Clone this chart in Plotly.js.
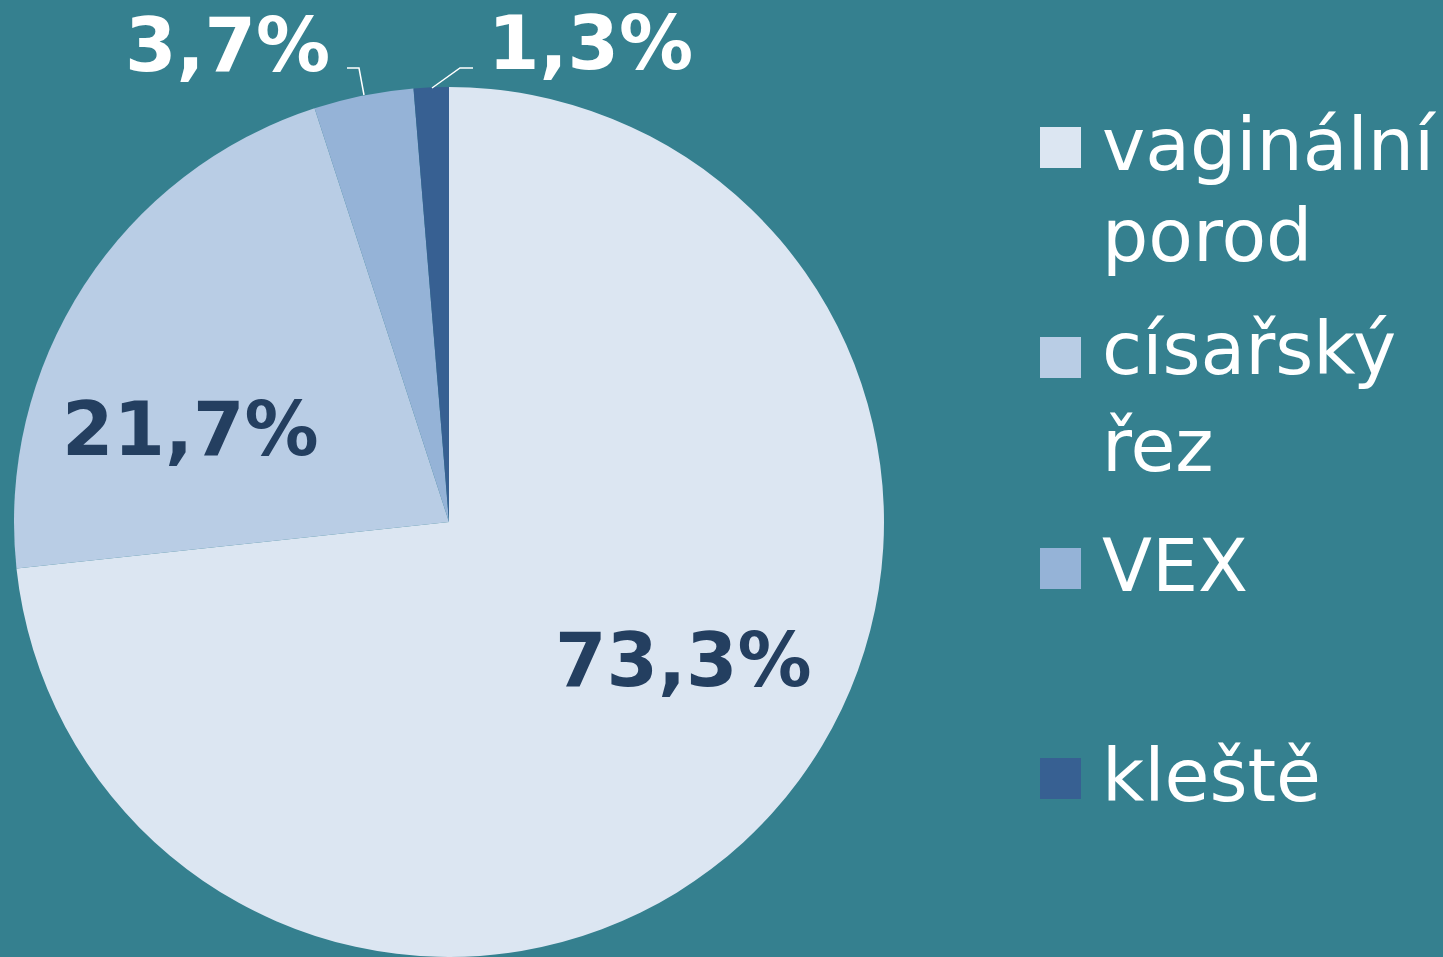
<!DOCTYPE html>
<html><head><meta charset="utf-8">
<script src="https://cdn.plot.ly/plotly-3.0.1.min.js"></script>
<style>html,body{margin:0;padding:0;background:#35808F;}#chart{width:1443px;height:957px;}</style>
</head><body><div id="chart"></div>
<script>
const labels = ['vaginální porod', 'císařský řez', 'VEX', 'kleště'];
const values = [73.3, 21.7, 3.7, 1.3];
const colors = ['#DCE6F2', '#B9CDE5', '#95B3D7', '#376092'];
const legendLines = [['vaginální', 'porod'], ['císařský', 'řez'], ['VEX'], ['kleště']];

const W = 1443, H = 957;
const px = x => x / W;
const py = y => (H - y) / H;
const fmt = v => v.toFixed(1).replace('.', ',') + '%';

const trace = {
  type: 'pie',
  labels: labels,
  values: values,
  sort: false,
  direction: 'clockwise',
  rotation: 0,
  marker: {colors: colors, line: {width: 0}},
  textinfo: 'none',
  domain: {x: [px(14), px(884)], y: [py(957), py(87)]},
  hoverinfo: 'label+percent',
  showlegend: false
};

const shapes = [], annotations = [];

// data labels (positions chosen to match the reference layout)
const labelPos = [
  {cx: 683, capTop: 633, color: '#243F60'},
  {cx: 191, capTop: 402, color: '#243F60'},
  {cx: 227, capTop: 18, color: '#FFFFFF'},
  {cx: 590, capTop: 16, color: '#FFFFFF'}
];
values.forEach((v, i) => {
  const p = labelPos[i];
  annotations.push({xref: 'paper', yref: 'paper', x: px(p.cx), y: py(p.capTop - 18),
    xanchor: 'center', yanchor: 'top', showarrow: false, text: fmt(v),
    font: {family: 'DejaVu Sans', size: 74, color: p.color, weight: 'bold'}});
});

// leader lines for the two outside labels
const P = (x, y) => px(x) + ',' + py(y);
shapes.push({type: 'path', xref: 'paper', yref: 'paper',
  path: 'M' + P(347, 68) + ' L' + P(359, 68) + ' L' + P(364, 95),
  line: {color: '#FFFFFF', width: 1.5}});
shapes.push({type: 'path', xref: 'paper', yref: 'paper',
  path: 'M' + P(432, 88) + ' L' + P(460, 68) + ' L' + P(473, 68),
  line: {color: '#FFFFFF', width: 1.5}});

// custom legend
const markerTop = [127, 337, 548, 758];
const baselines = [[173, 264], [377, 474], [594], [804]];
labels.forEach((lab, i) => {
  const y0 = markerTop[i];
  shapes.push({type: 'rect', xref: 'paper', yref: 'paper',
    x0: px(1040), x1: px(1081), y0: py(y0 + 41), y1: py(y0),
    fillcolor: colors[i], line: {width: 0}});
  legendLines[i].forEach((line, j) => {
    annotations.push({xref: 'paper', yref: 'paper', x: px(1100), y: py(baselines[i][j] - 73),
      xanchor: 'left', yanchor: 'top', align: 'left', showarrow: false,
      text: line,
      font: {family: 'DejaVu Sans', size: 73, color: '#FFFFFF'}});
  });
});

const layout = {
  width: W, height: H,
  margin: {l: 0, r: 0, t: 0, b: 0},
  paper_bgcolor: '#35808F',
  plot_bgcolor: '#35808F',
  showlegend: false,
  shapes: shapes,
  annotations: annotations
};
Plotly.newPlot('chart', [trace], layout, {displayModeBar: false, staticPlot: true});
</script></body></html>
